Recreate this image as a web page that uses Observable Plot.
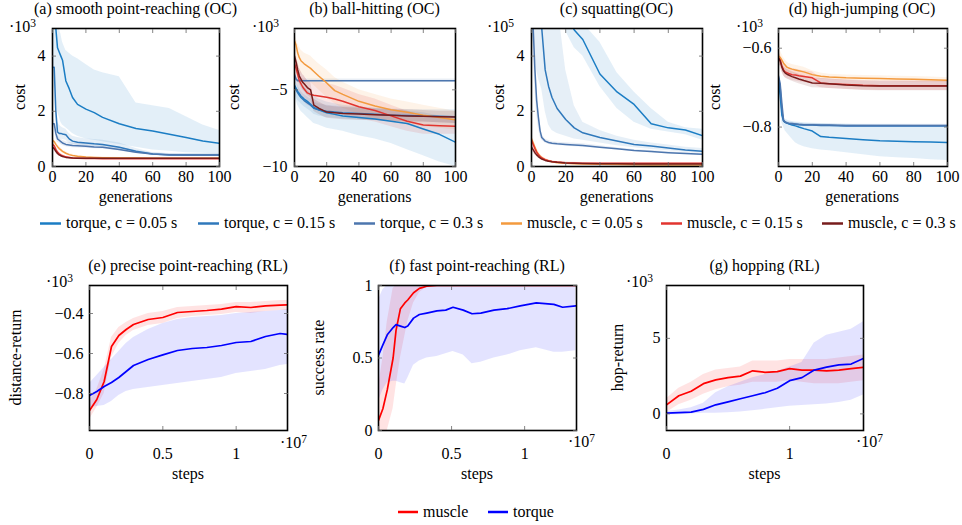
<!DOCTYPE html>
<html>
<head>
<meta charset="utf-8">
<script src="https://cdn.jsdelivr.net/npm/d3@7"></script>
<script src="https://cdn.jsdelivr.net/npm/@observablehq/plot@0.6"></script>
<style>
  html, body { margin: 0; padding: 0; background: #fff; }
  #chart { position: relative; width: 962px; height: 525px; overflow: hidden; background: #fff; }
</style>
</head>
<body>
<div id="chart"></div>
<script>
// ---------- DATA ----------
const gens = [0,1,2,3,4,5,6,8,10,12,15,20,25,30,40,50,60,70,80,90,100];

const seriesLabels = ["torque, c = 0.05 s","torque, c = 0.15 s","torque, c = 0.3 s","muscle, c = 0.05 s","muscle, c = 0.15 s","muscle, c = 0.3 s"];
const seriesColors = ["#1b7dc4","#2f78bb","#4d76ae","#f39a3e","#e2342f","#771c1c"];

// (a) smooth point-reaching (OC), cost ·10^3
const aT005   = [6.5,5.6,5.0,4.3,4.15,4.0,3.85,3.1,2.82,2.5,2.25,2.08,1.95,1.78,1.55,1.38,1.29,1.17,1.05,0.92,0.84];
const aT005Lo = [4.0,3.5,2.5,2.0,1.8,1.6,1.5,1.4,1.3,1.2,1.1,1.0,0.95,0.9,0.8,0.7,0.6,0.55,0.5,0.48,0.45];
const aT005Hi = [6.5,6.0,5.5,5.2,5.0,4.8,4.5,4.2,4.1,4.0,3.9,3.7,3.5,3.4,3.25,2.3,2.2,2.1,1.8,1.5,1.3];
const aT015   = [3.6,3.6,2.0,1.25,1.2,1.2,1.18,1.15,1.0,0.92,0.88,0.85,0.82,0.8,0.7,0.55,0.45,0.42,0.42,0.42,0.42];
const aT015Lo = [3.0,2.8,1.5,1.05,1.0,1.0,0.98,0.95,0.85,0.8,0.76,0.73,0.7,0.68,0.6,0.48,0.4,0.38,0.38,0.38,0.38];
const aT015Hi = [4.0,4.0,2.6,1.6,1.5,1.45,1.4,1.35,1.2,1.1,1.05,1.0,0.98,0.95,0.85,0.65,0.5,0.46,0.46,0.46,0.46];
const aT03    = [1.55,1.55,1.2,1.0,0.95,0.9,0.85,0.8,0.78,0.76,0.75,0.73,0.71,0.7,0.62,0.52,0.45,0.43,0.42,0.42,0.42];
const aT03Lo  = [1.4,1.4,1.05,0.88,0.85,0.8,0.76,0.72,0.7,0.68,0.67,0.66,0.64,0.63,0.56,0.47,0.41,0.4,0.39,0.39,0.39];
const aT03Hi  = [1.7,1.7,1.35,1.12,1.05,1.0,0.95,0.9,0.87,0.85,0.84,0.82,0.8,0.78,0.7,0.58,0.5,0.47,0.46,0.46,0.46];
const aM005   = [0.95,0.9,0.8,0.72,0.65,0.6,0.55,0.48,0.43,0.4,0.37,0.34,0.33,0.32,0.31,0.31,0.3,0.3,0.3,0.3,0.3];
const aM005Lo = [0.85,0.8,0.7,0.63,0.57,0.53,0.49,0.43,0.39,0.36,0.34,0.32,0.31,0.3,0.29,0.29,0.28,0.28,0.28,0.28,0.28];
const aM005Hi = [1.05,1.0,0.9,0.81,0.73,0.67,0.61,0.53,0.47,0.44,0.4,0.36,0.35,0.34,0.33,0.33,0.32,0.32,0.32,0.32,0.32];
const aM015   = [0.8,0.75,0.62,0.52,0.46,0.42,0.39,0.35,0.33,0.31,0.3,0.29,0.29,0.28,0.28,0.28,0.28,0.28,0.28,0.28,0.28];
const aM015Lo = [0.7,0.66,0.55,0.46,0.41,0.38,0.35,0.32,0.3,0.29,0.28,0.27,0.27,0.26,0.26,0.26,0.26,0.26,0.26,0.26,0.26];
const aM015Hi = [0.9,0.84,0.7,0.58,0.51,0.46,0.43,0.38,0.36,0.33,0.32,0.31,0.31,0.3,0.3,0.3,0.3,0.3,0.3,0.3,0.3];
const aM03    = [0.7,0.65,0.55,0.47,0.42,0.39,0.36,0.33,0.32,0.31,0.3,0.3,0.3,0.3,0.3,0.3,0.3,0.3,0.3,0.3,0.3];
const aM03Lo  = [0.62,0.58,0.49,0.42,0.38,0.35,0.33,0.31,0.3,0.29,0.28,0.28,0.28,0.28,0.28,0.28,0.28,0.28,0.28,0.28,0.28];
const aM03Hi  = [0.78,0.72,0.61,0.52,0.46,0.43,0.39,0.35,0.34,0.33,0.32,0.32,0.32,0.32,0.32,0.32,0.32,0.32,0.32,0.32,0.32];

// (b) ball-hitting (OC), cost ·10^3
const bT005   = [-4.7,-4.9,-5.1,-5.25,-5.4,-5.5,-5.6,-5.75,-5.95,-6.15,-6.3,-6.5,-6.6,-6.7,-6.8,-6.9,-7.05,-7.2,-7.55,-7.9,-8.42];
const bT005Lo = [-5.5,-5.7,-6.0,-6.2,-6.4,-6.5,-6.6,-6.8,-7.0,-7.2,-7.3,-7.5,-7.6,-7.7,-8.0,-8.2,-8.5,-8.9,-9.3,-9.7,-10.0];
const bT005Hi = [-4.0,-4.2,-4.4,-4.5,-4.6,-4.7,-4.8,-5.0,-5.2,-5.4,-5.6,-5.8,-5.9,-6.0,-6.1,-6.2,-6.3,-6.4,-6.5,-6.7,-7.0];
const bT015   = [-4.8,-5.0,-5.2,-5.35,-5.5,-5.6,-5.7,-5.85,-6.0,-6.2,-6.3,-6.4,-6.45,-6.5,-6.55,-6.6,-6.65,-6.68,-6.7,-6.72,-6.75];
const bT015Lo = [-5.3,-5.5,-5.7,-5.8,-5.9,-6.0,-6.1,-6.25,-6.4,-6.6,-6.7,-6.8,-6.85,-6.9,-6.95,-7.0,-7.05,-7.1,-7.1,-7.15,-7.2];
const bT015Hi = [-4.3,-4.5,-4.7,-4.9,-5.1,-5.2,-5.3,-5.45,-5.6,-5.8,-5.9,-6.0,-6.05,-6.1,-6.15,-6.2,-6.25,-6.28,-6.3,-6.3,-6.3];
const bT03    = [-4.0,-4.3,-4.4,-4.4,-4.4,-4.4,-4.4,-4.4,-4.4,-4.4,-4.4,-4.4,-4.4,-4.4,-4.4,-4.4,-4.4,-4.4,-4.4,-4.4,-4.4];
const bT03Lo  = [-4.2,-4.45,-4.5,-4.5,-4.5,-4.5,-4.5,-4.5,-4.5,-4.5,-4.5,-4.5,-4.5,-4.5,-4.5,-4.5,-4.5,-4.5,-4.5,-4.5,-4.5];
const bT03Hi  = [-3.8,-4.15,-4.3,-4.3,-4.3,-4.3,-4.3,-4.3,-4.3,-4.3,-4.3,-4.3,-4.3,-4.3,-4.3,-4.3,-4.3,-4.3,-4.3,-4.3,-4.3];
const bM005   = [-1.8,-2.1,-2.6,-2.9,-3.1,-3.2,-3.3,-3.45,-3.6,-3.8,-4.1,-4.55,-5.05,-5.3,-5.75,-6.05,-6.3,-6.46,-6.65,-6.8,-6.95];
const bM005Lo = [-2.3,-2.7,-3.3,-3.7,-3.9,-4.0,-4.1,-4.3,-4.5,-4.7,-5.0,-5.5,-5.9,-6.2,-6.6,-6.9,-7.1,-7.3,-7.4,-7.5,-7.6];
const bM005Hi = [-1.4,-1.6,-2.0,-2.2,-2.4,-2.5,-2.6,-2.7,-2.8,-3.0,-3.3,-3.7,-4.2,-4.5,-5.0,-5.3,-5.6,-5.8,-6.0,-6.2,-6.4];
const bM015   = [-3.3,-3.6,-4.0,-4.4,-4.6,-4.8,-4.95,-5.2,-5.3,-5.35,-5.4,-5.48,-5.6,-5.75,-6.1,-6.35,-6.7,-7.05,-7.3,-7.35,-7.38];
const bM015Lo = [-4.0,-4.4,-4.8,-5.2,-5.4,-5.6,-5.8,-6.0,-6.1,-6.2,-6.3,-6.4,-6.5,-6.6,-6.9,-7.1,-7.4,-7.7,-7.9,-7.9,-7.9];
const bM015Hi = [-2.6,-2.8,-3.2,-3.6,-3.8,-4.0,-4.1,-4.4,-4.5,-4.5,-4.5,-4.6,-4.7,-4.9,-5.3,-5.6,-6.0,-6.4,-6.7,-6.8,-6.9];
const bM03    = [-2.8,-3.2,-3.7,-4.1,-4.3,-4.5,-4.6,-4.85,-5.0,-6.0,-6.2,-6.45,-6.5,-6.55,-6.58,-6.62,-6.66,-6.7,-6.73,-6.76,-6.78];
const bM03Lo  = [-3.3,-3.7,-4.2,-4.6,-4.8,-5.0,-5.1,-5.35,-5.5,-6.4,-6.6,-6.85,-6.9,-6.95,-7.0,-7.0,-7.05,-7.1,-7.1,-7.15,-7.2];
const bM03Hi  = [-2.3,-2.7,-3.2,-3.6,-3.8,-4.0,-4.1,-4.35,-4.5,-5.6,-5.8,-6.05,-6.1,-6.15,-6.2,-6.25,-6.3,-6.3,-6.35,-6.4,-6.4];

// (c) squatting (OC), cost ·10^5
const cT005   = [9,9,9,9,9,9,8.5,8,7.5,7,6.3,5.5,4.95,4.6,3.35,2.7,2.25,1.55,1.4,1.32,1.12];
const cT005Lo = [9,9,9,9,9,9,8,7.5,7,6.5,5.8,4.9,4.3,4.0,2.9,2.1,1.6,1.35,1.25,1.15,0.95];
const cT005Hi = [9,9,9,9,9,9,9,9,8,7.5,7,6,5.4,5.2,4.5,3.4,2.7,2.1,1.6,1.4,1.35];
const cT015   = [9,8,7,6.5,6,5.5,5.0,3.5,2.9,2.5,2.1,1.7,1.4,1.22,1.05,0.92,0.8,0.74,0.67,0.6,0.55];
const cT015Lo = [5,4.5,4,3.5,3.2,3,2.8,2,1.5,1.3,1.2,1.1,1.0,0.95,0.85,0.75,0.68,0.62,0.57,0.52,0.48];
const cT015Hi = [9,9,9,9,9,9,9,8,7,6.5,6,3.5,2.2,1.6,1.3,1.1,0.95,0.85,0.78,0.7,0.65];
const cT03    = [6,5,3.5,2.4,1.8,1.3,1.05,0.92,0.87,0.84,0.82,0.8,0.78,0.76,0.7,0.64,0.58,0.54,0.5,0.47,0.44];
const cT03Lo  = [5,4,2.8,1.9,1.4,1.1,0.95,0.85,0.8,0.78,0.76,0.74,0.72,0.7,0.65,0.6,0.54,0.5,0.47,0.44,0.41];
const cT03Hi  = [7,6,4.2,2.9,2.2,1.5,1.15,1.0,0.94,0.9,0.88,0.86,0.84,0.82,0.75,0.68,0.62,0.58,0.53,0.5,0.47];
const cM005   = [1.0,0.85,0.7,0.55,0.45,0.38,0.32,0.25,0.2,0.17,0.14,0.12,0.1,0.09,0.08,0.07,0.06,0.05,0.05,0.05,0.05];
const cM005Lo = [0.8,0.7,0.57,0.45,0.37,0.31,0.26,0.2,0.16,0.14,0.12,0.1,0.08,0.07,0.06,0.05,0.04,0.04,0.04,0.04,0.04];
const cM005Hi = [1.2,1.0,0.85,0.67,0.55,0.46,0.39,0.3,0.24,0.2,0.17,0.14,0.12,0.11,0.1,0.09,0.08,0.07,0.07,0.07,0.07];
const cM015   = [0.95,0.8,0.65,0.52,0.43,0.36,0.31,0.25,0.21,0.18,0.16,0.14,0.13,0.12,0.12,0.12,0.12,0.12,0.12,0.12,0.12];
const cM015Lo = [0.75,0.65,0.52,0.42,0.35,0.3,0.26,0.21,0.18,0.16,0.14,0.12,0.11,0.1,0.1,0.1,0.1,0.1,0.1,0.1,0.1];
const cM015Hi = [1.15,0.95,0.78,0.62,0.51,0.42,0.36,0.29,0.24,0.21,0.18,0.16,0.15,0.14,0.14,0.14,0.14,0.14,0.14,0.14,0.14];
const cM03    = [0.7,0.6,0.5,0.42,0.36,0.31,0.27,0.22,0.19,0.17,0.15,0.13,0.12,0.11,0.1,0.1,0.09,0.09,0.09,0.09,0.09];
const cM03Lo  = [0.58,0.5,0.42,0.35,0.3,0.26,0.23,0.19,0.16,0.15,0.13,0.11,0.1,0.09,0.08,0.08,0.07,0.07,0.07,0.07,0.07];
const cM03Hi  = [0.82,0.7,0.58,0.49,0.42,0.36,0.31,0.25,0.22,0.19,0.17,0.15,0.14,0.13,0.12,0.12,0.11,0.11,0.11,0.11,0.11];

// (d) high-jumping (OC), cost ·10^3
const dT005   = [-0.68,-0.72,-0.77,-0.784,-0.788,-0.79,-0.792,-0.795,-0.797,-0.8,-0.804,-0.81,-0.824,-0.826,-0.829,-0.832,-0.835,-0.836,-0.837,-0.838,-0.839];
const dT005Lo = [-0.7,-0.74,-0.79,-0.8,-0.81,-0.815,-0.82,-0.83,-0.84,-0.845,-0.85,-0.855,-0.858,-0.86,-0.865,-0.87,-0.875,-0.878,-0.88,-0.883,-0.885];
const dT005Hi = [-0.66,-0.7,-0.755,-0.775,-0.78,-0.782,-0.784,-0.786,-0.787,-0.788,-0.789,-0.79,-0.791,-0.792,-0.793,-0.794,-0.795,-0.795,-0.796,-0.796,-0.797];
const dT015   = [-0.675,-0.7,-0.76,-0.785,-0.788,-0.79,-0.791,-0.792,-0.793,-0.794,-0.795,-0.795,-0.796,-0.796,-0.797,-0.797,-0.797,-0.797,-0.797,-0.797,-0.797];
const dT015Lo = [-0.68,-0.705,-0.765,-0.789,-0.791,-0.793,-0.794,-0.795,-0.796,-0.797,-0.798,-0.798,-0.799,-0.799,-0.8,-0.8,-0.8,-0.8,-0.8,-0.8,-0.8];
const dT015Hi = [-0.67,-0.695,-0.755,-0.781,-0.785,-0.787,-0.788,-0.789,-0.79,-0.791,-0.792,-0.792,-0.793,-0.793,-0.794,-0.794,-0.794,-0.794,-0.794,-0.794,-0.794];
const dT03    = [-0.67,-0.69,-0.74,-0.783,-0.787,-0.789,-0.79,-0.791,-0.792,-0.793,-0.794,-0.794,-0.795,-0.795,-0.796,-0.796,-0.796,-0.796,-0.796,-0.796,-0.796];
const dT03Lo  = [-0.675,-0.695,-0.745,-0.787,-0.79,-0.792,-0.793,-0.794,-0.795,-0.796,-0.797,-0.797,-0.798,-0.798,-0.799,-0.799,-0.799,-0.799,-0.799,-0.799,-0.799];
const dT03Hi  = [-0.665,-0.685,-0.735,-0.779,-0.784,-0.786,-0.787,-0.788,-0.789,-0.79,-0.791,-0.791,-0.792,-0.792,-0.793,-0.793,-0.793,-0.793,-0.793,-0.793,-0.793];
const dM005   = [-0.62,-0.623,-0.63,-0.638,-0.643,-0.648,-0.65,-0.653,-0.655,-0.657,-0.66,-0.667,-0.671,-0.673,-0.675,-0.676,-0.677,-0.678,-0.679,-0.68,-0.681];
const dM005Lo = [-0.64,-0.64,-0.645,-0.652,-0.657,-0.66,-0.662,-0.665,-0.667,-0.669,-0.672,-0.677,-0.679,-0.68,-0.682,-0.683,-0.684,-0.685,-0.686,-0.686,-0.687];
const dM005Hi = [-0.6,-0.605,-0.615,-0.624,-0.63,-0.635,-0.638,-0.641,-0.643,-0.645,-0.648,-0.657,-0.663,-0.666,-0.668,-0.669,-0.67,-0.671,-0.672,-0.673,-0.675];
const dM015   = [-0.625,-0.63,-0.645,-0.655,-0.66,-0.662,-0.664,-0.667,-0.668,-0.67,-0.672,-0.675,-0.688,-0.69,-0.692,-0.694,-0.695,-0.695,-0.695,-0.695,-0.695];
const dM015Lo = [-0.64,-0.645,-0.66,-0.67,-0.675,-0.677,-0.679,-0.682,-0.683,-0.685,-0.687,-0.69,-0.7,-0.702,-0.704,-0.706,-0.707,-0.707,-0.707,-0.707,-0.707];
const dM015Hi = [-0.61,-0.615,-0.63,-0.64,-0.645,-0.647,-0.649,-0.652,-0.653,-0.655,-0.657,-0.66,-0.676,-0.678,-0.68,-0.682,-0.683,-0.683,-0.683,-0.683,-0.683];
const dM03    = [-0.625,-0.632,-0.648,-0.658,-0.663,-0.666,-0.668,-0.672,-0.675,-0.678,-0.682,-0.688,-0.689,-0.69,-0.693,-0.695,-0.696,-0.696,-0.696,-0.696,-0.696];
const dM03Lo  = [-0.64,-0.645,-0.66,-0.67,-0.675,-0.678,-0.68,-0.684,-0.687,-0.69,-0.694,-0.7,-0.701,-0.702,-0.705,-0.707,-0.708,-0.708,-0.708,-0.708,-0.708];
const dM03Hi  = [-0.61,-0.619,-0.636,-0.646,-0.651,-0.654,-0.656,-0.66,-0.663,-0.666,-0.67,-0.676,-0.677,-0.678,-0.681,-0.683,-0.684,-0.684,-0.684,-0.684,-0.684];

// (e) precise point-reaching (RL): steps ·10^7, distance-return ·10^3
const eSteps    = [0,0.05,0.1,0.15,0.2,0.25,0.3,0.4,0.5,0.6,0.7,0.8,0.9,1.0,1.1,1.2,1.3,1.35];
const eMuscle   = [-0.885,-0.83,-0.74,-0.565,-0.51,-0.48,-0.455,-0.43,-0.42,-0.395,-0.39,-0.385,-0.378,-0.366,-0.37,-0.362,-0.358,-0.357];
const eMuscleLo = [-0.93,-0.87,-0.8,-0.62,-0.55,-0.51,-0.485,-0.46,-0.45,-0.425,-0.415,-0.41,-0.405,-0.395,-0.4,-0.39,-0.385,-0.385];
const eMuscleHi = [-0.84,-0.78,-0.68,-0.52,-0.47,-0.445,-0.425,-0.4,-0.39,-0.37,-0.365,-0.36,-0.355,-0.345,-0.345,-0.34,-0.335,-0.335];
const eTorque   = [-0.81,-0.79,-0.765,-0.745,-0.72,-0.69,-0.66,-0.63,-0.607,-0.585,-0.575,-0.57,-0.56,-0.545,-0.54,-0.515,-0.5,-0.505];
const eTorqueLo = [-0.87,-0.865,-0.86,-0.84,-0.81,-0.79,-0.78,-0.77,-0.76,-0.75,-0.74,-0.73,-0.72,-0.7,-0.69,-0.68,-0.66,-0.655];
const eTorqueHi = [-0.75,-0.71,-0.67,-0.63,-0.59,-0.55,-0.52,-0.48,-0.45,-0.43,-0.42,-0.415,-0.41,-0.4,-0.395,-0.39,-0.385,-0.38];

// (f) fast point-reaching (RL): success rate
const fSteps    = [0,0.03,0.06,0.1,0.12,0.15,0.18,0.2,0.24,0.28,0.33,0.4,0.46,0.51,0.58,0.64,0.7,0.79,0.88,0.97,1.08,1.2,1.26,1.35];
const fMuscle   = [0.07,0.15,0.28,0.5,0.69,0.84,0.88,0.9,0.95,0.98,0.995,1,1,1,1,1,1,1,1,1,1,1,1,1];
const fMuscleLo = [0,0,0,0.15,0.3,0.5,0.65,0.75,0.88,0.95,0.99,1,1,1,1,1,1,1,1,1,1,1,1,1];
const fMuscleHi = [0.3,0.5,0.75,0.98,1,1,1,1,1,1,1,1,1,1,1,1,1,1,1,1,1,1,1,1];
const fTorque   = [0.52,0.59,0.66,0.71,0.73,0.72,0.71,0.72,0.775,0.8,0.81,0.825,0.83,0.85,0.83,0.805,0.81,0.83,0.84,0.86,0.88,0.87,0.85,0.86];
const fTorqueLo = [0.2,0.28,0.33,0.34,0.34,0.33,0.32,0.36,0.45,0.48,0.5,0.51,0.53,0.545,0.52,0.46,0.47,0.5,0.52,0.55,0.57,0.54,0.54,0.55];
const fTorqueHi = [0.9,0.97,1,1,1,1,1,1,1,1,1,1,1,1,1,1,1,1,1,1,1,1,1,1];

// (g) hopping (RL): hop-return ·10^3
const gSteps    = [0,0.1,0.2,0.3,0.4,0.5,0.6,0.7,0.8,0.9,1.0,1.1,1.2,1.3,1.4,1.5,1.6];
const gMuscle   = [0.6,1.2,1.5,2.0,2.25,2.4,2.5,2.85,2.75,2.8,3.0,2.9,2.9,2.85,2.9,3.0,3.08];
const gMuscleLo = [0.1,0.6,0.9,1.3,1.6,1.8,1.9,2.1,2.1,2.1,2.2,2.1,2.0,2.0,2.0,2.1,2.2];
const gMuscleHi = [1.0,1.7,2.1,2.6,2.9,3.0,3.1,3.5,3.5,3.5,3.6,3.6,3.6,3.6,3.7,3.8,3.9];
const gTorque   = [0.05,0.08,0.12,0.3,0.6,0.8,1.0,1.2,1.4,1.7,2.2,2.4,2.9,3.1,3.25,3.3,3.67];
const gTorqueLo = [-0.05,-0.05,0.0,0.05,0.05,0.08,0.12,0.2,0.3,0.4,0.5,0.55,0.6,0.65,0.75,0.9,1.25];
const gTorqueHi = [0.15,0.25,0.4,0.7,1.4,1.8,2.1,2.4,2.6,2.8,3.1,3.4,4.7,5.2,5.4,5.6,6.1];

const genTicks = [0,20,40,60,80,100];
const rlLabels = ["muscle","torque"];
const rlColors = ["#ff0000","#0000ff"];

// ---------- RENDER ----------
const FONT = "'Liberation Serif', 'Times New Roman', serif";
const container = document.getElementById("chart");
const numFmt = d => (d < 0 ? "\u2212" : "") + String(Math.abs(d));

function panel(p) {
  const mL = 50, mR = 12, mT = 8, mB = 40;
  const [fx, fy, fw, fh] = p.frame;
  const marks = [];
  for (const s of p.series) {
    const rows = s.x.map((x, i) => ({x, lo: s.lo[i], hi: s.hi[i]}));
    marks.push(Plot.areaY(rows, {x: "x", y1: "lo", y2: "hi", fill: s.color, fillOpacity: p.bandOpacity, clip: true}));
  }
  for (const s of p.series) {
    const rows = s.x.map((x, i) => ({x, y: s.y[i]}));
    marks.push(Plot.line(rows, {x: "x", y: "y", stroke: s.color, strokeWidth: p.lineWidth, clip: true}));
  }
  marks.push(Plot.frame({stroke: "black", strokeWidth: 1.6}));
  const tickStyle = {tickSize: -4, stroke: "#666", strokeWidth: 0.8, label: null};
  marks.push(Plot.axisX(p.xTicks, {...tickStyle, anchor: "bottom", tickPadding: p.xPad, fill: "black", tickFormat: numFmt}));
  marks.push(Plot.axisX(p.xTicks, {...tickStyle, anchor: "top", tickFormat: () => ""}));
  marks.push(Plot.axisY(p.yTicks, {...tickStyle, anchor: "left", tickPadding: p.yPad, fill: "black", tickFormat: numFmt}));
  marks.push(Plot.axisY(p.yTicks, {...tickStyle, anchor: "right", tickFormat: () => ""}));
  const svg = Plot.plot({
    width: fw + mL + mR, height: fh + mT + mB,
    marginLeft: mL, marginRight: mR, marginTop: mT, marginBottom: mB,
    x: {domain: p.xDomain}, y: {domain: p.yDomain},
    style: {fontFamily: FONT, fontSize: "16px", background: "none", overflow: "visible", color: "black"},
    marks
  });
  svg.style.position = "absolute";
  svg.style.left = (fx - mL) + "px";
  svg.style.top = (fy - mT) + "px";
  container.appendChild(svg);
}

function ocSeries(vals) {
  return vals.map((v, i) => ({x: gens, y: v[0], lo: v[1], hi: v[2], color: seriesColors[i]}));
}

const topCommon = {xDomain: [0, 100], xTicks: genTicks, xPad: 8, yPad: 11, bandOpacity: 0.12, lineWidth: 1.5};
panel({...topCommon, frame: [52, 28, 167, 138], yDomain: [0, 5], yTicks: [0, 2, 4],
  series: ocSeries([[aT005,aT005Lo,aT005Hi],[aT015,aT015Lo,aT015Hi],[aT03,aT03Lo,aT03Hi],[aM005,aM005Lo,aM005Hi],[aM015,aM015Lo,aM015Hi],[aM03,aM03Lo,aM03Hi]])});
panel({...topCommon, frame: [294, 28, 161, 138], yDomain: [-10, -1], yTicks: [-10, -5],
  series: ocSeries([[bT005,bT005Lo,bT005Hi],[bT015,bT015Lo,bT015Hi],[bT03,bT03Lo,bT03Hi],[bM005,bM005Lo,bM005Hi],[bM015,bM015Lo,bM015Hi],[bM03,bM03Lo,bM03Hi]])});
panel({...topCommon, frame: [531, 28, 171, 138], yDomain: [0, 5], yTicks: [0, 2, 4],
  series: ocSeries([[cT005,cT005Lo,cT005Hi],[cT015,cT015Lo,cT015Hi],[cT03,cT03Lo,cT03Hi],[cM005,cM005Lo,cM005Hi],[cM015,cM015Lo,cM015Hi],[cM03,cM03Lo,cM03Hi]])});
panel({...topCommon, frame: [778, 28, 169, 138], yDomain: [-0.9, -0.55], yTicks: [-0.8, -0.6],
  series: ocSeries([[dT005,dT005Lo,dT005Hi],[dT015,dT015Lo,dT015Hi],[dT03,dT03Lo,dT03Hi],[dM005,dM005Lo,dM005Hi],[dM015,dM015Lo,dM015Hi],[dM03,dM03Lo,dM03Hi]])});

const botCommon = {xPad: 21, yPad: 10, bandOpacity: 0.11, lineWidth: 1.7};
panel({...botCommon, frame: [89, 285, 198, 145], xDomain: [0, 1.35], yDomain: [-0.985, -0.26], xTicks: [0, 0.5, 1], yTicks: [-0.8, -0.6, -0.4],
  series: [{x: eSteps, y: eMuscle, lo: eMuscleLo, hi: eMuscleHi, color: rlColors[0]}, {x: eSteps, y: eTorque, lo: eTorqueLo, hi: eTorqueHi, color: rlColors[1]}]});
panel({...botCommon, frame: [378, 285, 198, 145], xDomain: [0, 1.355], yDomain: [0, 1], xTicks: [0, 0.5, 1], yTicks: [0, 0.5, 1],
  series: [{x: fSteps, y: fMuscle, lo: fMuscleLo, hi: fMuscleHi, color: rlColors[0]}, {x: fSteps, y: fTorque, lo: fTorqueLo, hi: fTorqueHi, color: rlColors[1]}]});
panel({...botCommon, frame: [666, 285, 197, 145], xDomain: [0, 1.6], yDomain: [-1.1, 8.5], xTicks: [0, 1], yTicks: [0, 5],
  series: [{x: gSteps, y: gMuscle, lo: gMuscleLo, hi: gMuscleHi, color: rlColors[0]}, {x: gSteps, y: gTorque, lo: gTorqueLo, hi: gTorqueHi, color: rlColors[1]}]});

// ---------- TEXT OVERLAY (titles, axis labels, legends) ----------
const ov = d3.select(container).append("svg")
  .attr("width", 962).attr("height", 525)
  .style("position", "absolute").style("left", "0px").style("top", "0px")
  .style("pointer-events", "none")
  .style("font-family", FONT).style("font-size", "16px").attr("fill", "black");

function txt(s, x, y, anchor = "middle", rot = false) {
  const t = ov.append("text").attr("x", x).attr("y", y).attr("text-anchor", anchor).text(s);
  if (rot) t.attr("transform", `rotate(-90,${x},${y})`);
  return t;
}
function expo(x, y, e) {
  const t = ov.append("text").attr("x", x).attr("y", y).attr("text-anchor", "start");
  t.append("tspan").text("\u00B710");
  t.append("tspan").attr("dy", -5).attr("font-size", "11.5px").text(e);
}

// titles
txt("(a) smooth point-reaching (OC)", 135.5, 13.5);
txt("(b) ball-hitting (OC)", 374.5, 13.5);
txt("(c) squatting(OC)", 616.5, 13.5);
txt("(d) high-jumping (OC)", 862, 13.5);
txt("(e) precise point-reaching (RL)", 188, 270.5);
txt("(f) fast point-reaching (RL)", 477, 270.5);
txt("(g) hopping (RL)", 764.5, 270.5);

// exponents
expo(9, 32, "3"); expo(252, 32, "3"); expo(487, 32, "5"); expo(736, 32, "3");
expo(46, 287, "3"); expo(626, 287, "3");
expo(280, 448, "7"); expo(568, 447, "7"); expo(856, 447, "7");

// axis labels
[135.5, 374.5, 616.5, 862].forEach(cx => txt("generations", cx, 202));
[188, 477, 764.5].forEach(cx => txt("steps", cx, 479));
[24.5, 238.5, 503.5, 719.5].forEach(bx => txt("cost", bx, 97, "middle", true));
txt("distance-return", 20.5, 357.5, "middle", true);
txt("success rate", 324, 357.5, "middle", true);
txt("hop-return", 623, 357.5, "middle", true);

// top legend
const legendX = [40, 198, 354, 501, 661, 822];
seriesLabels.forEach((lab, i) => {
  ov.append("line").attr("x1", legendX[i]).attr("x2", legendX[i] + 21).attr("y1", 223.5).attr("y2", 223.5)
    .attr("stroke", seriesColors[i]).attr("stroke-width", 2.5);
  txt(lab, legendX[i] + 26, 228, "start");
});
// bottom legend
const rlLegendX = [398, 488];
rlLabels.forEach((lab, i) => {
  ov.append("line").attr("x1", rlLegendX[i]).attr("x2", rlLegendX[i] + 20).attr("y1", 512).attr("y2", 512)
    .attr("stroke", rlColors[i]).attr("stroke-width", 2.5);
  txt(lab, rlLegendX[i] + 25, 517, "start");
});
</script>
</body>
</html>
